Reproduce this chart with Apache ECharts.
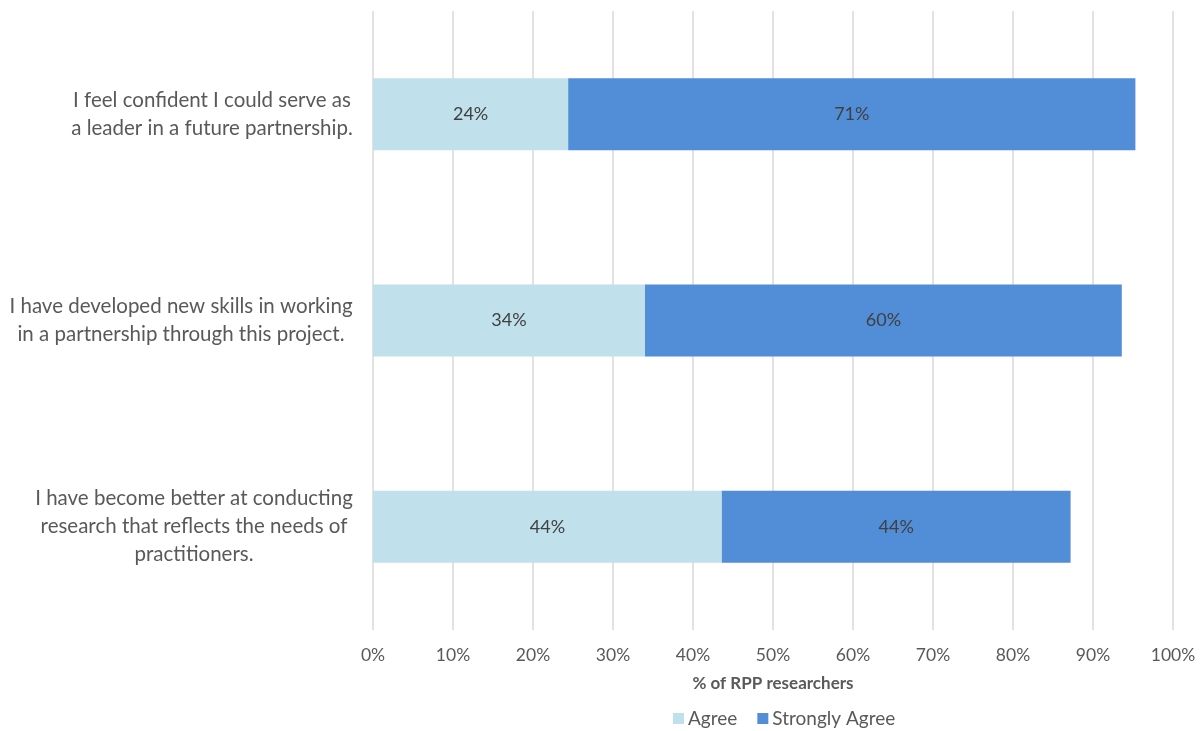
<!DOCTYPE html>
<html><head><meta charset="utf-8">
<script src="https://cdn.jsdelivr.net/npm/echarts@6/dist/echarts.min.js"></script>
<style>html,body{margin:0;padding:0;background:#fff}#c{width:1201px;height:731px}</style>
</head><body><div id="c"></div>
<script>
const categories = [
  "I feel confident I could serve as\na leader in a future partnership.",
  "I have developed new skills in working\nin a partnership through this project.",
  "I have become better at conducting\nresearch that reflects the needs of\npractitioners."
];
const agree = [24.4, 34, 43.6];
const stronglyAgree = [70.9, 59.6, 43.6];
const agreeLabels = ["24%", "34%", "44%"];
const strongLabels = ["71%", "60%", "44%"];
const xTicks = [0,10,20,30,40,50,60,70,80,90,100];

const font = "Lato, 'Open Sans', sans-serif";
const catSize = 20.5;
const textColor = '#595959';

// measure label line widths so each multi-line label is centred within its own block
const ctx = document.createElement('canvas').getContext('2d');
ctx.font = catSize + 'px Lato';
const rich = {};
categories.forEach((c, i) => {
  const w = Math.max(...c.split('\n').map(l => ctx.measureText(l).width));
  rich['c' + i] = {width: Math.ceil(w) + 2, align: 'center', fontFamily: font,
    fontSize: catSize, color: textColor, lineHeight: 28};
});

const chart = echarts.init(document.getElementById('c'));
chart.setOption({
  animation: false,
  textStyle: {fontFamily: font},
  grid: {left: 373, right: 28, top: 11, bottom: 101, containLabel: false},
  legend: {
    top: 709, left: 673, padding: 0, itemWidth: 11, itemHeight: 11, itemGap: 20,
    icon: 'rect',
    textStyle: {fontFamily: font, fontSize: 19, color: textColor, padding: [0, 0, 0, -1]},
    data: ['Agree', 'Strongly Agree']
  },
  xAxis: {
    type: 'value', min: 0, max: 100, interval: 10,
    name: '% of RPP researchers', nameLocation: 'middle', nameGap: 45,
    nameTextStyle: {fontFamily: font, fontSize: 17, fontWeight: 'bold', color: textColor},
    axisLine: {show: false}, axisTick: {show: false},
    axisLabel: {fontFamily: font, fontSize: 17.5, color: textColor, margin: 16,
      formatter: v => xTicks.includes(v) ? v + '%' : ''},
    splitLine: {show: true, lineStyle: {color: '#d9d9d9', width: 1.5}}
  },
  yAxis: {
    type: 'category', inverse: true, data: categories,
    axisLine: {show: false}, axisTick: {show: false},
    axisLabel: {margin: 19, align: 'right', rich: rich,
      formatter: (v, i) => v.split('\n').map(l => '{c' + i + '|' + l + '}').join('\n')}
  },
  series: [
    {name: 'Agree', type: 'bar', stack: 's', barWidth: 72, data: agree,
     itemStyle: {color: '#C0E0EB'},
     label: {show: true, position: 'inside', fontFamily: font, fontSize: 18, color: '#404040',
       formatter: p => agreeLabels[p.dataIndex]}},
    {name: 'Strongly Agree', type: 'bar', stack: 's', barWidth: 72, data: stronglyAgree,
     itemStyle: {color: '#528DD7'},
     label: {show: true, position: 'inside', fontFamily: font, fontSize: 18, color: '#404040',
       formatter: p => strongLabels[p.dataIndex]}}
  ]
});
</script></body></html>
